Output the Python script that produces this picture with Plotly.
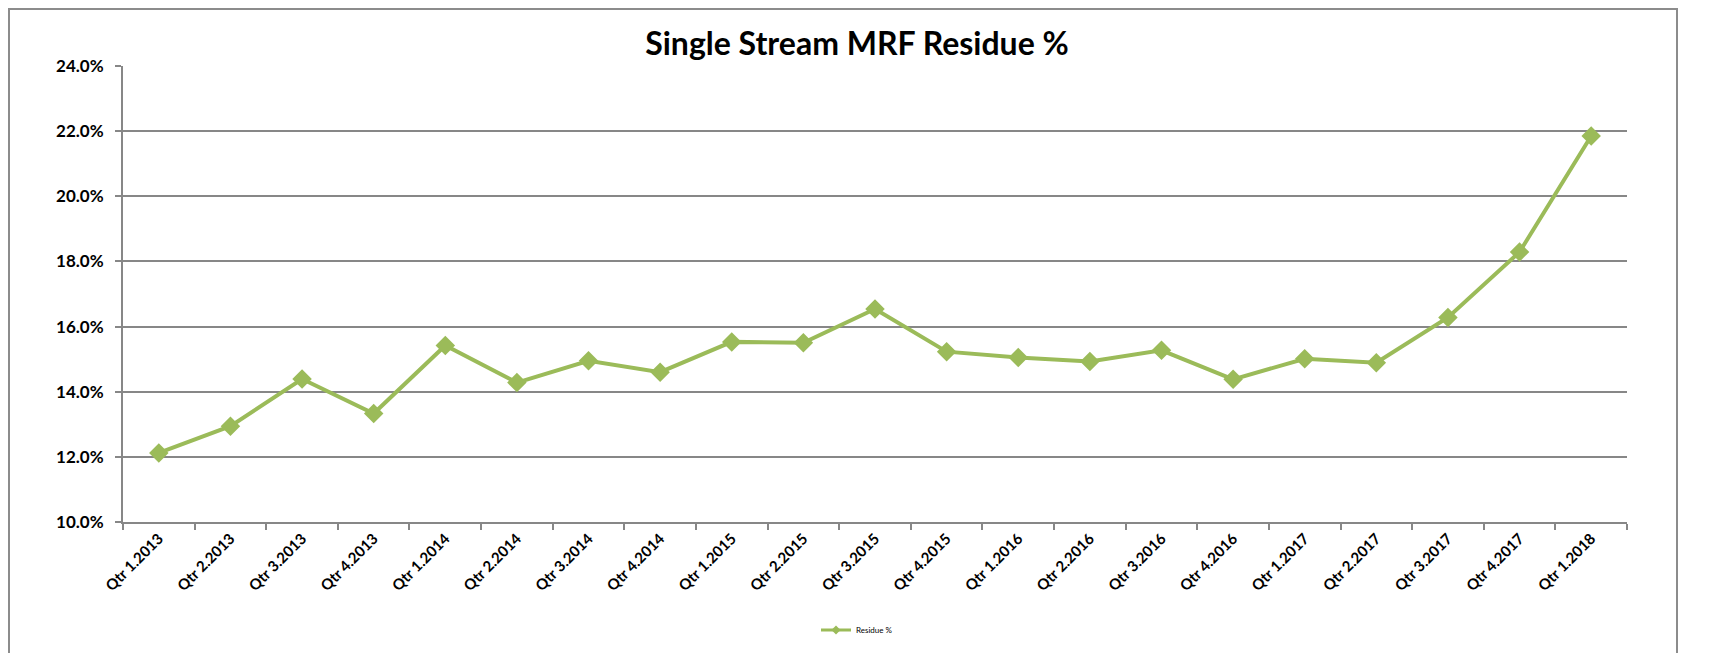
import plotly.graph_objects as go

categories = ["Qtr 1.2013", "Qtr 2.2013", "Qtr 3.2013", "Qtr 4.2013",
              "Qtr 1.2014", "Qtr 2.2014", "Qtr 3.2014", "Qtr 4.2014",
              "Qtr 1.2015", "Qtr 2.2015", "Qtr 3.2015", "Qtr 4.2015",
              "Qtr 1.2016", "Qtr 2.2016", "Qtr 3.2016", "Qtr 4.2016",
              "Qtr 1.2017", "Qtr 2.2017", "Qtr 3.2017", "Qtr 4.2017",
              "Qtr 1.2018"]
residue_pct = [12.12, 12.94, 14.39, 13.33, 15.42, 14.28, 14.95, 14.60,
               15.53, 15.50, 16.54, 15.23, 15.05, 14.93, 15.27, 14.38,
               15.01, 14.89, 16.28, 18.29, 21.85]
y_ticks = [10, 12, 14, 16, 18, 20, 22, 24]
series_name = "Residue %"

W, H = 1711, 653
OFF = 8  # page body margin
ml, mt = 115, 58
pw, ph = 1504, 456
mr = W - ml - pw
mb = H - mt - ph

FONT = "Lato, 'Open Sans', sans-serif"
GREEN = "#9BBB59"
GRID = "#878787"

fig = go.Figure()
fig.add_trace(go.Scatter(
    x=categories, y=residue_pct, mode="lines+markers", name=series_name,
    line=dict(color=GREEN, width=4),
    marker=dict(symbol="diamond", size=15, color=GREEN),
    showlegend=False,
))
# legend entry with a smaller marker, as in the reference
fig.add_trace(go.Scatter(
    x=[None], y=[None], mode="lines+markers", name=series_name,
    line=dict(color=GREEN, width=3),
    marker=dict(symbol="diamond", size=7, color=GREEN),
    showlegend=True,
))

def px_x(p):
    return (p - OFF - ml) / pw

def px_y(p):
    return (mt + ph - (p - OFF)) / ph

fig.add_shape(type="rect", xref="paper", yref="paper",
              x0=px_x(9), x1=px_x(1677), y0=px_y(720), y1=px_y(9),
              line=dict(color="#8C8C8C", width=2), fillcolor="rgba(0,0,0,0)",
              layer="below")

fig.update_layout(
    width=W, height=H,
    margin=dict(l=ml, r=mr, t=mt, b=mb, pad=0),
    paper_bgcolor="white", plot_bgcolor="white",
    title=dict(text="<b>Single Stream MRF Residue %</b>", x=(857 - OFF) / W, xanchor="center",
               y=1 - (44 - OFF) / H, yanchor="middle",
               font=dict(family=FONT, size=32, color="black")),
    font=dict(family=FONT, color="black"),
    showlegend=True,
    legend=dict(orientation="h", x=px_x(857), xanchor="center", y=px_y(630), yanchor="middle",
                font=dict(family=FONT, size=8, color="black"),
                bgcolor="rgba(0,0,0,0)"),
    xaxis=dict(type="category", categoryorder="array", categoryarray=categories,
               tickmode="array", tickvals=categories,
               ticktext=["<b>%s</b>" % c for c in categories],
               tickson="boundaries", ticks="outside", ticklen=6, tickwidth=1.5, tickcolor=GRID,
               tickangle=-45, tickfont=dict(family=FONT, size=15, color="black"),
               showline=True, linecolor=GRID, linewidth=2, showgrid=False,
               range=[-0.5, len(categories) - 0.5]),
    yaxis=dict(range=[10, 24], tickmode="array", tickvals=y_ticks,
               ticktext=["<b>%.1f%%</b>" % v for v in y_ticks],
               ticks="outside", ticklen=6, tickwidth=1.5, tickcolor=GRID,
               ticklabelstandoff=8,
               tickfont=dict(family=FONT, size=17, color="black"),
               showline=True, linecolor=GRID, linewidth=2,
               showgrid=True, gridcolor=GRID, gridwidth=1.5, zeroline=False),
)

fig.write_html("out.html")
